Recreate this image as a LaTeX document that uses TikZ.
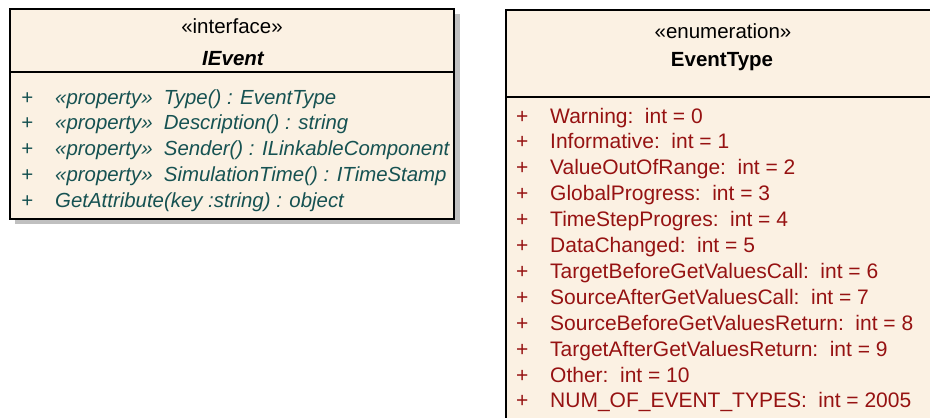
\documentclass[tikz,border=0pt]{standalone}
\usepackage{fontspec}
\setmainfont{Liberation Sans}
\definecolor{umlfill}{RGB}{251,241,227}
\definecolor{opcolor}{RGB}{22,82,82}
\definecolor{litcolor}{RGB}{150,18,18}
\definecolor{shadowgray}{RGB}{192,192,192}
\newcommand{\umlgap}{\hspace{0.55em}}
\begin{document}
\begin{tikzpicture}[x=1pt,y=-1pt,
  classbox/.style={draw=black, line width=1.8pt, fill=umlfill, inner sep=0,
    anchor=north west},
  sepline/.style={draw=black, line width=1.8pt},
  txt/.style={anchor=base west, inner sep=0, font=\fontsize{20}{24}\selectfont},
  head/.style={anchor=base, inner sep=0, font=\fontsize{20.5}{24}\selectfont},
  opline/.style={txt, text=opcolor, font=\fontsize{20.4}{24}\selectfont\itshape},
  litline/.style={txt, text=litcolor, font=\fontsize{21}{24}\selectfont},
]
\useasboundingbox (0,0) rectangle (930,418);
\clip (0,0) rectangle (930,418);

% interface IEvent
\fill[shadowgray] (15,14) rectangle (460,224);
\node[classbox, minimum width=444pt, minimum height=210pt] (ievent) at (9,8) {};
\draw[sepline] (ievent.west |- 0,72) coordinate (isepL) -- (ievent.east |- 0,72) coordinate (isepR);
\node[head] (istereo) at (232,33) {«interface»};
\node[head, font=\fontsize{20.5}{24}\selectfont\bfseries\itshape] (iname) at (233,65) {IEvent};

\foreach \i/\t in {0/{«property»\umlgap Type() : EventType},
                   1/{«property»\umlgap Description() : string},
                   2/{«property»\umlgap Sender() : ILinkableComponent},
                   3/{«property»\umlgap SimulationTime() : ITimeStamp},
                   4/{GetAttribute(key :string) : object}} {
  \node[opline] (iplus\i) at (21,104+25.75*\i) {+};
  \node[opline] (iop\i) at (55,104+25.75*\i) {\t};
}

% enumeration EventType
\node[classbox, minimum width=435pt, minimum height=440pt] (etype) at (505,9) {};
\draw[sepline] (etype.west |- 0,97) coordinate (esepL) -- (etype.east |- 0,97) coordinate (esepR);
\node[head] (estereo) at (723,38) {«enumeration»};
\node[head, font=\fontsize{20.5}{24}\selectfont\bfseries] (ename) at (722,66) {EventType};

\foreach \i/\t in {0/{Warning:\umlgap int = 0},
                   1/{Informative:\umlgap int = 1},
                   2/{ValueOutOfRange:\umlgap int = 2},
                   3/{GlobalProgress:\umlgap int = 3},
                   4/{TimeStepProgres:\umlgap int = 4},
                   5/{DataChanged:\umlgap int = 5},
                   6/{TargetBeforeGetValuesCall:\umlgap int = 6},
                   7/{SourceAfterGetValuesCall:\umlgap int = 7},
                   8/{SourceBeforeGetValuesReturn:\umlgap int = 8},
                   9/{TargetAfterGetValuesReturn:\umlgap int = 9},
                   10/{Other:\umlgap int = 10},
                   11/{NUM\_OF\_EVENT\_TYPES:\umlgap int = 2005}} {
  \node[litline] (eplus\i) at (516,123+25.9*\i) {+};
  \node[litline] (elit\i) at (550,123+25.9*\i) {\t};
}
\end{tikzpicture}
\end{document}
